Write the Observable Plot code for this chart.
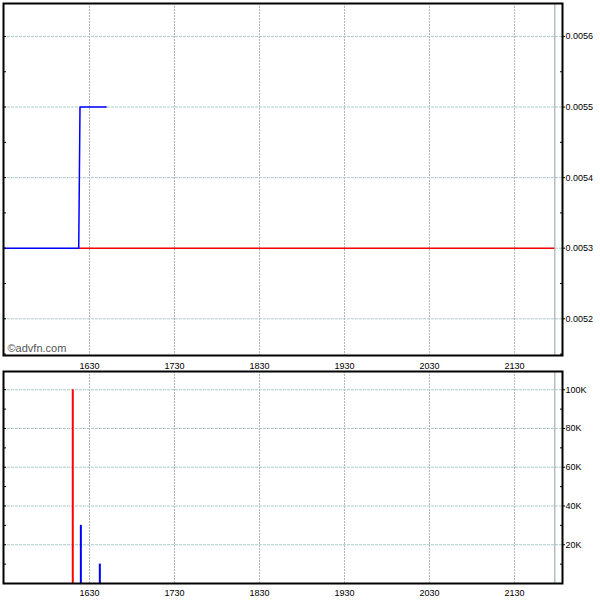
<!DOCTYPE html>
<html>
<head>
<meta charset="utf-8">
<script src="https://cdn.jsdelivr.net/npm/d3@7"></script>
<script src="https://cdn.jsdelivr.net/npm/@observablehq/plot@0.6"></script>
<style>
  html, body { margin: 0; padding: 0; background: #fff; }
  #wrap { position: relative; width: 600px; height: 600px; overflow: hidden; }
  #wrap svg { position: absolute; left: 0; overflow: visible; }
</style>
</head>
<body>
<div id="wrap"></div>
<script>
// ---- data (time = minutes since midnight) ----
const xDomain = [929.3, 1323.9];
const xTicks = [990, 1050, 1110, 1170, 1230, 1290];
const xTickLabels = ["1630", "1730", "1830", "1930", "2030", "2130"];
const sessionEnd = 1318.5;

const priceTime = [929.3, 982.4, 983.3, 1001.8];
const priceValue = [0.0053, 0.0053, 0.0055, 0.0055];
const refLevel = 0.0053;
const refStart = 982.4;
const priceDomain = [0.005148, 0.0056467];
const priceTicks = [0.0052, 0.0053, 0.0054, 0.0055, 0.0056];
const priceMinorLeft = [0.00515, 0.0052, 0.00525, 0.0053, 0.00535, 0.0054, 0.00545, 0.0055, 0.00555, 0.0056];
const priceMinorRight = [0.00515, 0.00525, 0.00535, 0.00545, 0.00555];

const volTime = [978.2, 983.9, 997.3];
const volValue = [100000, 30000, 10000];
const volSide = ["sell", "buy", "buy"];
const volDomain = [0, 109400];
const volTicks = [20000, 40000, 60000, 80000, 100000];
const volTickLabels = ["20K", "40K", "60K", "80K", "100K"];
const volMinorLeft = [10000, 20000, 30000, 40000, 50000, 60000, 70000, 80000, 90000, 100000];
const volMinorRight = [10000, 30000, 50000, 70000, 90000];

// ---- build tables ----
const priceData = priceTime.map((t, i) => ({t, v: priceValue[i]}));
const volData = volTime.map((t, i) => ({t, v: volValue[i], side: volSide[i]}));
const fmtX = d => xTickLabels[xTicks.indexOf(d)];
const fmtVol = d => volTickLabels[volTicks.indexOf(d)];

const font = "'Liberation Sans', Arial, sans-serif";
const hGrid = {stroke: "#afcaca", strokeOpacity: 1, strokeDasharray: "3,1"};
const vGrid = {stroke: "#b4b4b4", strokeOpacity: 1, strokeDasharray: "2,1"};

const pricePlot = Plot.plot({
  width: 600, height: 370,
  marginTop: 3, marginBottom: 15, marginLeft: 3, marginRight: 38,
  style: {fontFamily: font, fontSize: "9px", background: "transparent", color: "black"},
  x: {domain: xDomain, axis: null, label: null},
  y: {domain: priceDomain, axis: null, label: null},
  marks: [
    Plot.gridX(xTicks, vGrid),
    Plot.gridY(priceTicks, hGrid),
    Plot.ruleX([sessionEnd], {stroke: "#88a6a6", strokeWidth: 1}),
    Plot.ruleY([refLevel], {x1: refStart, x2: sessionEnd, stroke: "#ff0000", strokeWidth: 1.5}),
    Plot.line(priceData, {x: "t", y: "v", stroke: "#0000ff", strokeWidth: 1.5}),
    Plot.text(["©advfn.com"], {frameAnchor: "bottom-left", dx: 4, dy: -4, lineAnchor: "bottom", fontSize: 11, fill: "#555"}),
    Plot.frame({stroke: "black", strokeWidth: 2}),
    Plot.axisY(priceMinorLeft, {anchor: "left", label: null, tickSize: -3, tickFormat: () => "", stroke: "black"}),
    Plot.axisY(priceMinorRight, {anchor: "right", label: null, tickSize: -3, tickFormat: () => "", stroke: "black"}),
    Plot.axisY(priceTicks, {anchor: "right", label: null, tickSize: 2, tickPadding: 1, tickFormat: d => d.toFixed(4), fontSize: 9}),
    Plot.axisX(xTicks, {anchor: "bottom", label: null, tickSize: 0, tickPadding: 7, tickFormat: fmtX, fontSize: 9})
  ]
});
pricePlot.style.top = "0px";

const volumePlot = Plot.plot({
  width: 600, height: 230,
  marginTop: 1, marginBottom: 17, marginLeft: 3, marginRight: 38,
  style: {fontFamily: font, fontSize: "9px", background: "transparent", color: "black"},
  x: {domain: xDomain, axis: null, label: null},
  y: {domain: volDomain, axis: null, label: null},
  color: {domain: ["sell", "buy"], range: ["#ff0000", "#0000ff"]},
  marks: [
    Plot.gridX(xTicks, vGrid),
    Plot.gridY(volTicks, hGrid),
    Plot.ruleX([sessionEnd], {stroke: "#88a6a6", strokeWidth: 1}),
    Plot.ruleX(volData, {x: "t", y1: 0, y2: "v", stroke: "side", strokeWidth: 2}),
    Plot.frame({stroke: "black", strokeWidth: 2}),
    Plot.axisY(volMinorLeft, {anchor: "left", label: null, tickSize: -3, tickFormat: () => "", stroke: "black"}),
    Plot.axisY(volMinorRight, {anchor: "right", label: null, tickSize: -3, tickFormat: () => "", stroke: "black"}),
    Plot.axisY(volTicks, {anchor: "right", label: null, tickSize: 2, tickPadding: 1, tickFormat: fmtVol, fontSize: 9}),
    Plot.axisX(xTicks, {anchor: "bottom", label: null, tickSize: 0, tickPadding: 6, tickFormat: fmtX, fontSize: 9})
  ]
});
volumePlot.style.top = "370px";

const wrap = document.getElementById("wrap");
wrap.appendChild(pricePlot);
wrap.appendChild(volumePlot);
</script>
</body>
</html>
